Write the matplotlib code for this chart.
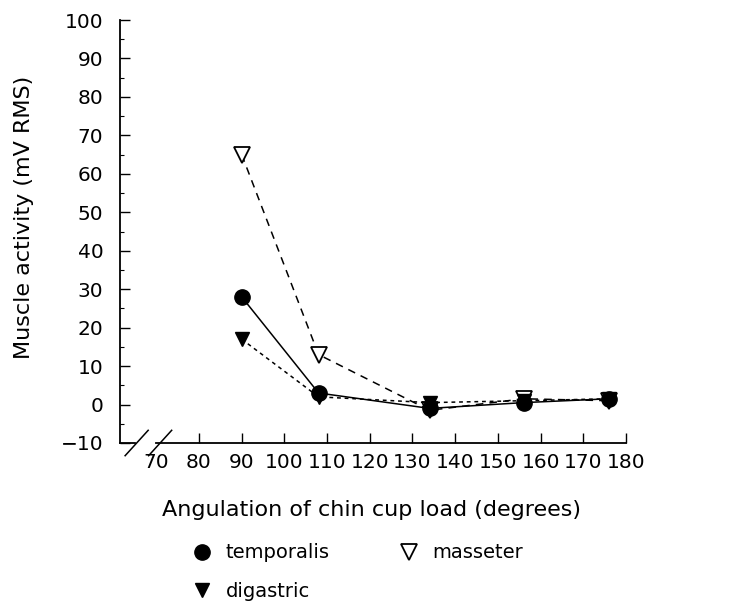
import matplotlib.pyplot as plt
from matplotlib.lines import Line2D
from matplotlib.ticker import MultipleLocator

# angulation of the chin cup load (degrees)
angles = [90, 108, 134, 156, 176]

# muscle activity (mV RMS)
temporalis = [28, 3, -1, 0.5, 1.5]
masseter = [65, 13, -1.5, 1.5, 1]
digastric = [17, 2, 0.5, 1, 1.5]

x_ticks = [70, 80, 90, 100, 110, 120, 130, 140, 150, 160, 170, 180]
y_ticks = [-10, 0, 10, 20, 30, 40, 50, 60, 70, 80, 90, 100]

plt.rcParams['font.family'] = 'DejaVu Sans'

fig = plt.figure(figsize=(7.34, 6.05), dpi=100)
ax = fig.add_axes([120 / 734, 162 / 605, 506 / 734, 423 / 605])

ax.plot(angles, masseter, linestyle=(0, (5, 4)), color='black', lw=1.1,
        marker='v', markersize=11, markerfacecolor='white', markeredgecolor='black',
        markeredgewidth=1.3, zorder=3)
ax.plot(angles, digastric, linestyle=(0, (2.5, 2.5)), color='black', lw=1.1,
        marker='v', markersize=10, markerfacecolor='black', markeredgecolor='black', zorder=4)
ax.plot(angles, temporalis, linestyle='-', color='black', lw=1.1,
        marker='o', markersize=11, markerfacecolor='black', markeredgecolor='black', zorder=5)

ax.set_xlim(61.5, 180)
ax.set_ylim(-10, 100)
ax.set_xticks(x_ticks)
ax.set_yticks(y_ticks)
ax.yaxis.set_minor_locator(MultipleLocator(5))
ax.tick_params(axis='both', direction='in', length=7, width=1, labelsize=14.5)
ax.tick_params(axis='y', which='minor', direction='in', length=3, width=0.8)
ax.tick_params(axis='x', pad=7)
ax.tick_params(axis='y', pad=12)
# no tick mark at 70, only its label next to the break
ax.xaxis.get_major_ticks()[0].tick1line.set_visible(False)

ax.spines['top'].set_visible(False)
ax.spines['right'].set_visible(False)
ax.spines['bottom'].set_visible(False)
ax.spines['left'].set_linewidth(1.3)

# x axis line with a break near the origin
trans = ax.get_xaxis_transform()
ax.plot([61.5, 65.0], [0, 0], color='black', lw=1.3, transform=trans, clip_on=False)
ax.plot([70.0, 180], [0, 0], color='black', lw=1.3, transform=trans, clip_on=False)
for x0 in (62.7, 68.2):
    ax.plot([x0, x0 + 5.4], [-0.03, 0.03], color='black', lw=1.1,
            transform=trans, clip_on=False)

ax.set_xlabel('Angulation of chin cup load (degrees)', fontsize=16)
ax.set_ylabel('Muscle activity (mV RMS)', fontsize=16)
ax.xaxis.set_label_coords(0.498, -0.135)
ax.yaxis.set_label_coords(-0.17, 0.534)

handles = [
    Line2D([], [], linestyle='none', marker='o', markersize=11, color='black'),
    Line2D([], [], linestyle='none', marker='v', markersize=10, color='black'),
    Line2D([], [], linestyle='none', marker='v', markersize=11,
           markerfacecolor='white', markeredgecolor='black', markeredgewidth=1.3),
]
fig.legend(handles, ['temporalis', 'digastric', 'masseter'], ncol=2,
           loc='upper left', bbox_to_anchor=(175 / 734, 1 - 526 / 605),
           frameon=False, fontsize=14, handletextpad=0.7, columnspacing=3.6,
           labelspacing=1.0, handlelength=1.0)

fig.savefig('out.png', dpi=100)
